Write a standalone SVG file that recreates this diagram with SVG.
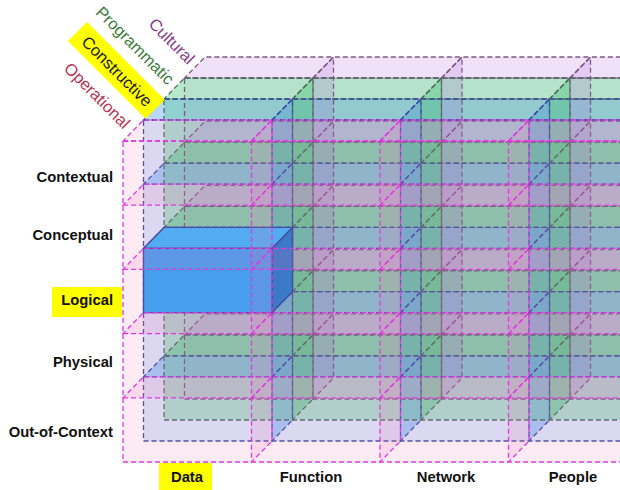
<svg xmlns="http://www.w3.org/2000/svg" width="620" height="490" viewBox="0 0 620 490">
<style>
  .f { stroke: none; }
  .k { fill: none; stroke-width: 1.3; stroke-dasharray: 5 3; }
  .op-face { fill: #f06eaf; fill-opacity: .14; }
  .op-plane { fill: #f06eaf; fill-opacity: .14; }
  .co-face { fill: #3a90f0; fill-opacity: .2; }
  .co-plane { fill: #3a90f0; fill-opacity: .35; }
  .pr-face { fill: #28c060; fill-opacity: .28; }
  .pr-plane { fill: #28c060; fill-opacity: .34; }
  .cu-face { fill: #aa64dc; fill-opacity: .06; }
  .cu-plane { fill: #aa64dc; fill-opacity: .19; }
  .op.k { stroke: #e038e0; }
  .co.k { stroke: #3a4ca8; }
  .pr.k { stroke: #4e6e60; }
  .cu.k { stroke: #7c5884; }
  .box { stroke: #2a48a0; stroke-width: 1.4; stroke-linejoin: round; }
  .box-front { fill: #2aa6f8; }
  .box-top { fill: #3ab6fc; }
  .box-side { fill: #1e7cca; }
  .hl { fill: #ffff00; }
  text { font-family: "Liberation Sans", Arial, sans-serif; }
  .row { font-size: 14.8px; font-weight: bold; fill: #111; text-anchor: end; }
  .col { font-size: 14.8px; font-weight: bold; fill: #111; text-anchor: middle; }
  .view { font-size: 16.5px; text-anchor: end; }
</style>
<defs>
  <!-- front face of one depth slab (z = 0) -->
  <rect id="face" x="123" y="141" width="514" height="321"/>
  <!-- row planes (per column) and column planes of one slab, z = 0..1 -->
  <g id="planes">
    <polygon points="123,141 251.5,141 272,120 143.5,120"/>
    <polygon points="251.5,141 380,141 400.5,120 272,120"/>
    <polygon points="380,141 508.5,141 529,120 400.5,120"/>
    <polygon points="508.5,141 637,141 657.5,120 529,120"/>
    <polygon points="123,205.2 251.5,205.2 272,184.2 143.5,184.2"/>
    <polygon points="251.5,205.2 380,205.2 400.5,184.2 272,184.2"/>
    <polygon points="380,205.2 508.5,205.2 529,184.2 400.5,184.2"/>
    <polygon points="508.5,205.2 637,205.2 657.5,184.2 529,184.2"/>
    <polygon points="123,269.4 251.5,269.4 272,248.4 143.5,248.4"/>
    <polygon points="251.5,269.4 380,269.4 400.5,248.4 272,248.4"/>
    <polygon points="380,269.4 508.5,269.4 529,248.4 400.5,248.4"/>
    <polygon points="508.5,269.4 637,269.4 657.5,248.4 529,248.4"/>
    <polygon points="123,333.6 251.5,333.6 272,312.6 143.5,312.6"/>
    <polygon points="251.5,333.6 380,333.6 400.5,312.6 272,312.6"/>
    <polygon points="380,333.6 508.5,333.6 529,312.6 400.5,312.6"/>
    <polygon points="508.5,333.6 637,333.6 657.5,312.6 529,312.6"/>
    <polygon points="123,397.8 251.5,397.8 272,376.8 143.5,376.8"/>
    <polygon points="251.5,397.8 380,397.8 400.5,376.8 272,376.8"/>
    <polygon points="380,397.8 508.5,397.8 529,376.8 400.5,376.8"/>
    <polygon points="508.5,397.8 637,397.8 657.5,376.8 529,376.8"/>
    <polygon points="251.5,141 272,120 272,441 251.5,462"/>
    <polygon points="380,141 400.5,120 400.5,441 380,462"/>
    <polygon points="508.5,141 529,120 529,441 508.5,462"/>
  </g>
  <g id="slab">
    <use href="#face"/>
    <use href="#planes"/>
  </g>
</defs>

<!-- tinted volumes of the three rear slabs -->
<g id="rear-slab-fills" class="f">
  <g transform="translate(20.5,-21)">
    <use href="#face" class="co-face"/>
    <use href="#planes" class="co-plane"/>
  </g>
  <g transform="translate(41,-42)">
    <use href="#face" class="pr-face"/>
    <use href="#planes" class="pr-plane"/>
  </g>
  <g transform="translate(61.5,-63)">
    <use href="#face" class="cu-face"/>
    <use href="#planes" class="cu-plane"/>
  </g>
</g>

<!-- dashed edges of the rear slabs, back to front -->
<g id="rear-slab-edges">
  <g id="slab-cultural"><use href="#slab" class="k cu" transform="translate(61.5,-63)"/></g>
  <g id="slab-programmatic"><use href="#slab" class="k pr" transform="translate(41,-42)"/></g>
  <g id="slab-constructive"><use href="#slab" class="k co" transform="translate(20.5,-21)"/></g>
</g>

<!-- highlighted cell: Data / Logical / Constructive -->
<g id="cell-data-logical-constructive" class="box">
  <polygon class="box-top" points="143.5,248.4 272,248.4 292.5,227.4 164,227.4"/>
  <polygon class="box-side" points="272,248.4 292.5,227.4 292.5,291.6 272,312.6"/>
  <rect class="box-front" x="143.5" y="248.4" width="128.5" height="64.2"/>
</g>

<!-- front slab on top of everything -->
<g id="slab-operational">
  <use href="#face" class="f op-face"/>
  <use href="#planes" class="f op-plane"/>
  <use href="#slab" class="k op"/>
</g>

<!-- perspective labels along the depth edge -->
<g id="view-labels" transform="rotate(45)">
  <rect class="hl" x="77" y="-46" width="110" height="27"/>
  <text class="view" x="179" y="4.5" fill="#b83250">Operational</text>
  <text class="view" x="179" y="-26.6" fill="#1a1a1a">Constructive</text>
  <text class="view" x="179" y="-57.7" fill="#3b7b3b">Programmatic</text>
  <text class="view" x="179" y="-86.7" fill="#8a3a8a">Cultural</text>
</g>

<!-- row labels -->
<g id="row-labels">
  <rect class="hl" x="52" y="287" width="70" height="30"/>
  <text class="row" x="113" y="182">Contextual</text>
  <text class="row" x="113" y="240">Conceptual</text>
  <text class="row" x="113" y="305">Logical</text>
  <text class="row" x="113" y="367">Physical</text>
  <text class="row" x="113" y="437">Out-of-Context</text>
</g>

<!-- column labels -->
<g id="column-labels">
  <rect class="hl" x="159" y="463" width="53" height="27"/>
  <text class="col" x="187" y="482">Data</text>
  <text class="col" x="311" y="482">Function</text>
  <text class="col" x="446" y="482">Network</text>
  <text class="col" x="573" y="482">People</text>
</g>
</svg>
